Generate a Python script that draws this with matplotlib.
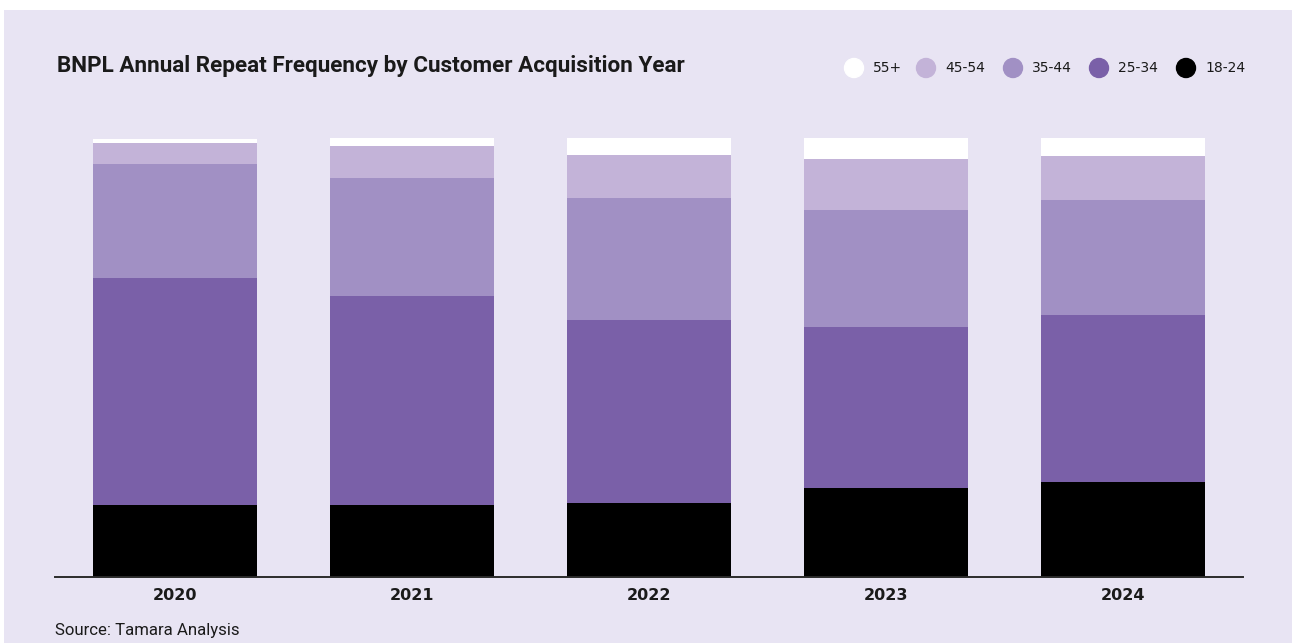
import numpy as np
import matplotlib
matplotlib.use("Agg")
import matplotlib.pyplot as plt
from matplotlib.patches import Rectangle, Ellipse

# share of annual repeat frequency by age group, per acquisition cohort (%)
years = ["2020", "2021", "2022", "2023", "2024"]
age_groups = ["18-24", "25-34", "35-44", "45-54", "55+"]
share_18_24 = [16.4, 16.4, 16.9, 20.3, 21.6]
share_25_34 = [51.8, 47.7, 41.8, 36.7, 38.1]
share_35_44 = [26.0, 26.9, 27.8, 26.7, 26.2]
share_45_54 = [4.8, 7.4, 9.8, 11.6, 10.2]
share_55_plus = [1.0, 1.6, 3.7, 4.7, 3.9]

colors = {"18-24": "#000000", "25-34": "#7A60A8", "35-44": "#A190C4",
          "45-54": "#C3B3D8", "55+": "#FFFFFF"}
bg = "#E8E4F3"

W, H = 1292, 643
fig = plt.figure(figsize=(W / 100, H / 100), dpi=100, facecolor="white")

# lavender panel behind everything
panel = fig.add_axes([4 / W, 0, 1 - 4 / W, (H - 10) / H], zorder=0)
panel.set_facecolor(bg)
panel.axis("off")
panel.add_patch(Rectangle((0, 0), 1, 1, transform=panel.transAxes, color=bg))

ax = fig.add_axes([55 / W, (H - 577) / H, (1243 - 55) / W, (577 - 138.5) / H], zorder=2)
ax.set_facecolor("none")

series = [share_18_24, share_25_34, share_35_44, share_45_54, share_55_plus]
x = np.arange(len(years))
bottom = np.zeros(len(years))
for name, vals in zip(age_groups, series):
    ax.bar(x, vals, bottom=bottom, width=0.692, color=colors[name], linewidth=0)
    bottom += np.array(vals)

ax.set_xlim(-0.506, len(years) - 1 + 0.506)
ax.set_ylim(0, 100)
for s in ["top", "right", "left"]:
    ax.spines[s].set_visible(False)
ax.spines["bottom"].set_color("#2b2b2b")
ax.spines["bottom"].set_linewidth(1.4)
ax.set_yticks([])
ax.set_xticks(x)
ax.set_xticklabels(years, fontsize=11.5, fontweight="bold", color="#1a1a1a",
                   family="DejaVu Sans")
ax.tick_params(axis="x", length=0, pad=8)

fig.text(57 / W, (H - 66) / H, "BNPL Annual Repeat Frequency by Customer Acquisition Year",
         fontsize=16.2, fontweight="bold", family="Roboto", color="#1a1a1a",
         va="center", ha="left", zorder=3)

# legend, drawn as dots plus labels in the top-right corner
legend_items = ["55+", "45-54", "35-44", "25-34", "18-24"]
dot_x = [854, 926, 1013, 1099, 1186]
for name, dx in zip(legend_items, dot_x):
    fig.patches.append(Ellipse((dx / W, (H - 68) / H), 19 / W, 19 / H,
                               transform=fig.transFigure, color=colors[name], zorder=3))
    fig.text((dx + 19) / W, (H - 68) / H, name, fontsize=10, family="DejaVu Sans",
             color="#1a1a1a", va="center", ha="left", zorder=3)

fig.text(55 / W, (H - 630) / H, "Source: Tamara Analysis", fontsize=12.1,
         family="Roboto", color="#1a1a1a", va="center", ha="left", zorder=3)

fig.savefig("out.png", dpi=100, facecolor="white")
